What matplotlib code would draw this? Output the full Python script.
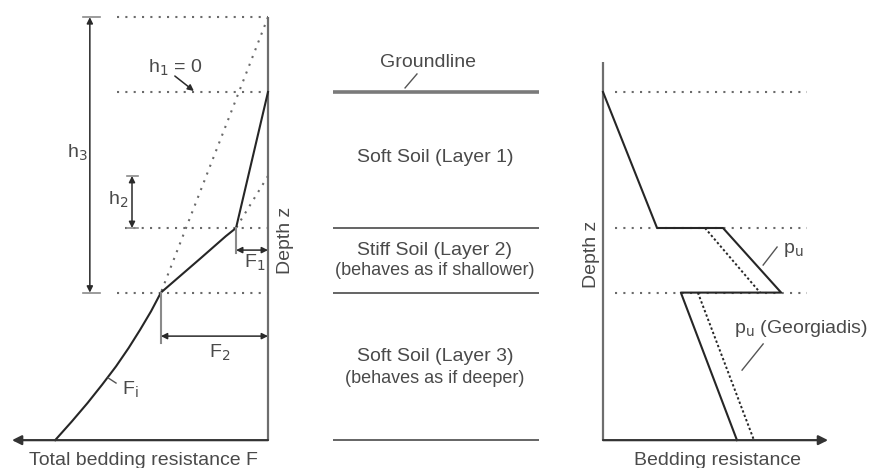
import matplotlib
matplotlib.use("Agg")
import matplotlib.pyplot as plt

plt.rcParams['font.family'] = ['Liberation Sans', 'DejaVu Sans']

# ---------------- data (depth z, resistance in schematic units) ----------------
Z_TOP = -2.2        # virtual top used for h3
Z_GROUND = 0.0
Z_L2_TOP = 4.0
Z_L2_BOT = 5.9
Z_BASE = 10.24
Z_H2 = 2.47         # equivalent start depth for stiff layer

layer_depths = [Z_GROUND, Z_L2_TOP, Z_L2_BOT, Z_BASE]

# left panel: total bedding resistance F (grows leftwards)
F_curve_z = [0.0, 4.0, 4.24, 4.88, 5.9, 6.45, 6.99, 7.53, 8.07, 8.61, 9.15, 9.69, 10.24]
F_curve_F = [0.0, 0.94, 1.24, 1.97, 3.15, 3.44, 3.76, 4.10, 4.47, 4.88, 5.31, 5.77, 6.26]
F1 = 0.94
F2 = 3.15
F_axis_max = 7.53

# right panel: bedding resistance p
pu_z = [0.0, 4.0, 4.0, 5.9, 5.9, 10.24]
pu_p = [0.0, 1.59, 3.53, 5.24, 2.29, 3.94]
geo1_z = [4.0, 5.9]
geo1_p = [3.0, 4.62]
geo2_z = [5.9, 10.24]
geo2_p = [2.79, 4.44]
p_axis_max = 6.62

layer_titles = ["Soft Soil (Layer 1)", "Stiff Soil (Layer 2)", "Soft Soil (Layer 3)"]
layer_notes = ["", "(behaves as if shallower)", "(behaves as if deeper)"]

# ---------------- styling ----------------
S = 34.0  # pixels per unit
W, H = 871, 468
TXT = '#4a4a4a'
CURVE = '#262626'
AXC = '#6e6e6e'
DOT = '#6a6a6a'
FS = 14

fig = plt.figure(figsize=(W / 100, H / 100), dpi=100)

def make_ax(x0_px, flip=False):
    ax = fig.add_axes([0, 0, 1, 1], facecolor='none')
    if flip:
        ax.set_xlim(x0_px / S, (x0_px - W) / S)
    else:
        ax.set_xlim(-x0_px / S, (W - x0_px) / S)
    ax.set_ylim((H - 92) / S, -92 / S)
    ax.axis('off')
    return ax

dotted = dict(color=DOT, lw=1.5, linestyle=(0, (1, 3)))

# ---------------- left panel ----------------
axL = make_ax(268, flip=True)
axL.plot([0, 0], [Z_TOP, Z_BASE], color=AXC, lw=1.6, solid_capstyle='butt')
axL.annotate('', xy=(F_axis_max, Z_BASE), xytext=(0, Z_BASE),
             arrowprops=dict(arrowstyle='-|>', color='#333333', lw=1.6,
                             mutation_scale=14, shrinkA=0, shrinkB=0))
for z, f0 in zip([Z_TOP, Z_GROUND, Z_L2_TOP, Z_L2_BOT], [4.44, 4.44, 4.2, 4.44]):
    axL.plot([f0, 0], [z, z], **dotted)
axL.plot([0, F2], [Z_TOP, Z_L2_BOT], **dotted)
axL.plot([0, F1], [Z_H2, Z_L2_TOP], **dotted)
axL.plot(F_curve_F, F_curve_z, color=CURVE, lw=1.5)
axL.plot([F1, F1], [Z_L2_TOP, 4.74], color='#8a8a8a', lw=1.5)
axL.plot([F2, F2], [Z_L2_BOT, 7.38], color='#8a8a8a', lw=1.5)
dbl = dict(arrowstyle='<|-|>', color='#2a2a2a', lw=1.1, mutation_scale=9,
           shrinkA=0, shrinkB=0)
axL.annotate('', xy=(F1, 4.65), xytext=(0, 4.65), arrowprops=dbl)
axL.annotate('', xy=(F2, 7.18), xytext=(0, 7.18), arrowprops=dbl)
axL.annotate('', xy=(5.24, Z_TOP), xytext=(5.24, Z_L2_BOT), arrowprops=dbl)
axL.plot([4.94, 5.44], [Z_TOP, Z_TOP], color='#8a8a8a', lw=1.2)
axL.plot([4.94, 5.44], [Z_L2_BOT, Z_L2_BOT], color='#8a8a8a', lw=1.2)
axL.annotate('', xy=(4.0, Z_H2), xytext=(4.0, Z_L2_TOP), arrowprops=dbl)
axL.plot([3.82, 4.15], [Z_H2, Z_H2], color='#8a8a8a', lw=1.2)
axL.plot([3.82, 4.15], [Z_L2_TOP, Z_L2_TOP], color='#8a8a8a', lw=1.2)
axL.text(5.62, 1.79, r'h$_3$', color=TXT, fontsize=FS, ha='center', va='center')
axL.text(4.41, 3.18, r'h$_2$', color=TXT, fontsize=FS, ha='center', va='center')
axL.text(2.74, -0.71, r'h$_1$ = 0', color=TXT, fontsize=FS, ha='center', va='center')
axL.annotate('', xy=(2.18, -0.03), xytext=(2.74, -0.47),
             arrowprops=dict(arrowstyle='-|>', color='#2a2a2a', lw=1.1,
                             mutation_scale=9, shrinkA=0, shrinkB=0))
axL.text(0.38, 5.03, r'F$_1$', color=TXT, fontsize=FS, ha='center', va='center')
axL.text(1.41, 7.68, r'F$_2$', color=TXT, fontsize=FS, ha='center', va='center')
axL.text(4.06, 8.76, r'F$_\mathrm{i}$', color=TXT, fontsize=FS, ha='center', va='center')
axL.plot([4.70, 4.47], [8.41, 8.56], color='#555555', lw=1.0)
axL.text(-0.5, 4.35, 'Depth z', color=TXT, fontsize=FS, rotation=90,
         ha='center', va='center')
axL.text(3.65, 10.85, 'Total bedding resistance F', color=TXT, fontsize=FS,
         ha='center', va='center')

# ---------------- middle panel ----------------
axM = make_ax(436)
for i, z in enumerate(layer_depths):
    if i == 0:
        axM.plot([-3.03, 3.03], [z, z], color='#7a7a7a', lw=2.6, solid_capstyle='butt')
    else:
        axM.plot([-3.03, 3.03], [z, z], color='#4a4a4a', lw=1.2, solid_capstyle='butt')
axM.text(-0.24, -0.88, 'Groundline', color=TXT, fontsize=FS, ha='center', va='center')
axM.plot([-0.91, -0.56], [-0.12, -0.53], color='#555555', lw=1.0)
title_z = [1.94, 4.65, 7.79]
note_z = [None, 5.26, 8.44]
for t, n, tz, nz in zip(layer_titles, layer_notes, title_z, note_z):
    axM.text(-0.03, tz, t, color=TXT, fontsize=FS, ha='center', va='center')
    if n:
        axM.text(-0.03, nz, n, color=TXT, fontsize=13, ha='center', va='center')

# ---------------- right panel ----------------
axR = make_ax(603)
axR.plot([0, 0], [-0.88, Z_BASE], color=AXC, lw=1.6, solid_capstyle='butt')
axR.annotate('', xy=(p_axis_max, Z_BASE), xytext=(0, Z_BASE),
             arrowprops=dict(arrowstyle='-|>', color='#333333', lw=1.6,
                             mutation_scale=14, shrinkA=0, shrinkB=0))
for z in [Z_GROUND, Z_L2_TOP, Z_L2_BOT]:
    axR.plot([0.35, 6.0], [z, z], **dotted)
axR.plot(pu_p, pu_z, color=CURVE, lw=1.5)
geo_style = dict(color=CURVE, lw=1.4, linestyle=(0, (1.2, 1.2)))
axR.plot(geo1_p, geo1_z, **geo_style)
axR.plot(geo2_p, geo2_z, **geo_style)
axR.text(5.29, 4.65, r'p$_\mathrm{u}$', color=TXT, fontsize=FS, ha='left', va='center')
axR.plot([4.71, 5.12], [5.09, 4.56], color='#555555', lw=1.0)
axR.text(7.80, 6.97, r'p$_\mathrm{u}$ (Georgiadis)', color=TXT, fontsize=FS,
         ha='right', va='center')
axR.plot([4.09, 4.71], [8.18, 7.41], color='#555555', lw=1.0)
axR.text(-0.35, 4.79, 'Depth z', color=TXT, fontsize=FS, rotation=90,
         ha='center', va='center')
axR.text(3.38, 10.85, 'Bedding resistance', color=TXT, fontsize=FS,
         ha='center', va='center')

fig.savefig('out.png', dpi=100)
